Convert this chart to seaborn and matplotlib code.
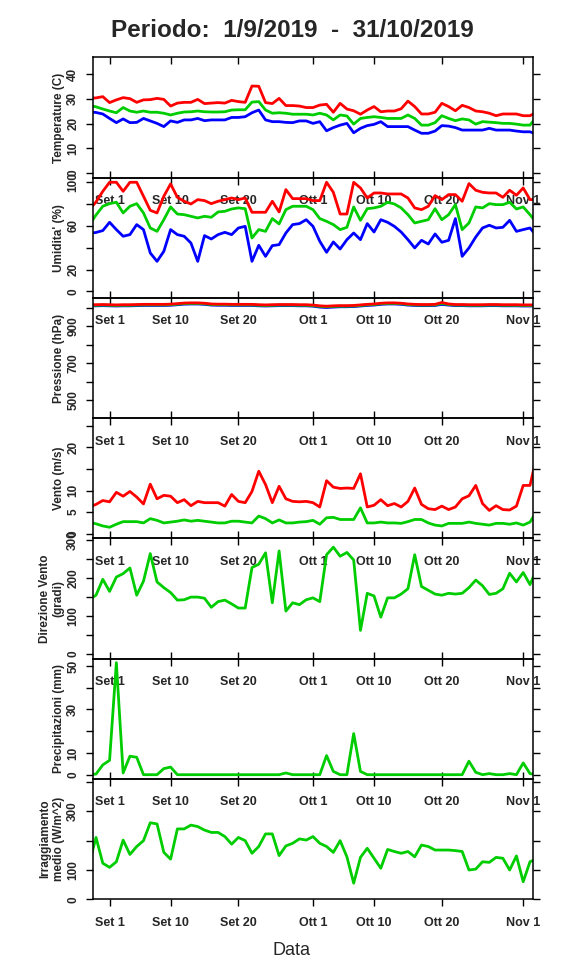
import matplotlib
matplotlib.use("Agg")
import matplotlib.pyplot as plt
import matplotlib.dates as mdates
import pandas as pd
import seaborn as sns

# giorni dal 29/8 al 3/11 (la finestra del grafico taglia gli estremi)
giorni = pd.date_range("2019-08-29", "2019-11-03", freq="D")

temp_max = [30.2, 30.4, 30.9, 28.5, 29.6, 30.5, 30.1, 28.6, 29.6, 29.7,
            30.2, 29.8, 27.1, 28.3, 28.6, 28.6, 29.8, 28.1, 28.3, 28.5,
            28.3, 29.4, 28.9, 28.6, 35.2, 35.1, 28.5, 28.1, 30.2, 27.3,
            27.3, 27.1, 26.5, 26.5, 27.5, 27.8, 24.6, 28.2, 25.9, 25.2,
            23.8, 25.5, 26.9, 24.8, 25.1, 25.1, 26.0, 29.1, 26.9, 23.9,
            23.9, 24.6, 28.2, 26.9, 25.2, 27.4, 26.5, 25.1, 24.8, 24.2,
            23.2, 23.9, 23.9, 23.9, 23.2, 23.2, 24.7]
temp_med = [27.3, 26.8, 25.9, 25.1, 24.4, 26.5, 25.1, 24.6, 25.1, 24.6,
            24.6, 24.2, 23.5, 24.2, 24.7, 24.8, 25.1, 24.8, 24.7, 24.7,
            24.8, 25.5, 25.6, 25.6, 28.7, 28.9, 25.5, 24.2, 24.4, 24.2,
            23.8, 23.8, 23.8, 23.5, 24.2, 23.5, 21.5, 23.5, 23.1, 19.8,
            22.1, 22.5, 22.8, 22.5, 22.1, 22.1, 22.1, 23.5, 22.1, 19.4,
            19.4, 20.4, 23.2, 22.1, 21.2, 21.9, 21.5, 19.8, 20.8, 20.6,
            20.4, 20.1, 20.1, 19.8, 19.4, 19.4, 22.9]
temp_min = [24.8, 24.5, 23.9, 22.1, 20.4, 21.9, 20.4, 20.5, 22.1, 21.1,
            20.1, 18.8, 21.1, 20.5, 21.5, 21.5, 22.1, 21.2, 21.5, 21.5,
            21.5, 22.5, 22.5, 22.8, 24.4, 25.5, 21.5, 20.8, 20.8, 20.5,
            20.4, 21.1, 21.1, 20.1, 20.8, 17.1, 18.4, 19.4, 20.1, 16.3,
            18.1, 19.2, 19.7, 20.8, 18.8, 18.8, 18.8, 18.8, 17.4, 16.1,
            16.1, 17.0, 19.2, 19.0, 18.4, 17.4, 17.4, 17.4, 17.4, 18.1,
            17.4, 17.4, 17.4, 17.0, 16.7, 16.7, 15.7]

umid_max = [74.6, 82.0, 91.7, 100, 100, 91.7, 100, 100, 87.2, 74.3,
            71.9, 87.2, 98.5, 86.2, 82.6, 80.1, 84.1, 83.2, 80.4, 82.6,
            84.1, 85.6, 84.1, 85.6, 72.5, 72.5, 72.5, 82.6, 72.8, 93.3,
            85.0, 85.0, 85.0, 83.2, 83.2, 100, 90.8, 70.9, 70.9, 100,
            94.8, 85.6, 90.2, 90.2, 89.3, 89.3, 89.3, 85.6, 76.5, 74.9,
            78.0, 87.8, 84.1, 88.7, 88.7, 82.6, 98.8, 92.7, 90.8, 90.2,
            90.2, 86.2, 92.7, 88.1, 94.8, 84.1, 84.1]
umid_med = [60.7, 70.0, 78.0, 80.4, 81.7, 71.9, 78.0, 80.4, 71.9, 58.1,
            55.0, 65.7, 77.4, 70.9, 70.3, 68.8, 67.3, 68.8, 67.9, 72.8,
            73.4, 75.5, 76.5, 75.8, 48.9, 56.6, 55.0, 66.7, 61.8, 74.9,
            78.0, 78.0, 78.0, 74.9, 66.7, 64.2, 61.2, 56.6, 58.7, 77.4,
            65.1, 75.8, 76.5, 78.0, 81.7, 80.1, 76.5, 70.3, 62.7, 64.2,
            65.7, 75.8, 65.7, 70.3, 79.5, 56.6, 62.7, 77.4, 76.5, 80.4,
            79.5, 79.5, 81.7, 75.5, 77.4, 70.3, 62.8]
umid_min = [53.0, 54.0, 55.7, 63.3, 56.6, 50.5, 52.0, 61.2, 56.6, 35.2,
            27.5, 36.7, 56.6, 52.0, 50.5, 44.3, 27.5, 51.1, 48.0, 52.0,
            54.1, 52.0, 58.1, 59.6, 27.5, 42.2, 32.1, 41.9, 42.8, 53.5,
            61.2, 62.1, 65.7, 59.6, 45.9, 35.8, 45.3, 38.8, 47.4, 53.5,
            47.4, 62.1, 54.4, 65.7, 63.3, 59.6, 54.4, 47.4, 39.8, 46.8,
            43.4, 52.6, 45.0, 46.8, 66.7, 32.1, 39.8, 49.8, 58.1, 60.6,
            58.1, 58.7, 65.1, 55.0, 56.6, 58.1, 50.6]

press_max = [1016, 1016, 1017, 1016, 1015, 1016, 1016, 1017, 1018, 1018,
             1018, 1018, 1019, 1022, 1025, 1026, 1026, 1024, 1020, 1019,
             1019, 1018, 1018, 1018, 1018, 1016, 1015, 1016, 1017, 1017,
             1017, 1016, 1016, 1014, 1010, 1008, 1010, 1011, 1011, 1012,
             1015, 1018, 1020, 1024, 1026, 1026, 1024, 1020, 1018, 1017,
             1017, 1018, 1028, 1020, 1017, 1017, 1016, 1016, 1016, 1017,
             1017, 1016, 1016, 1016, 1015, 1015, 1015]
press_med = [1013, 1013, 1014, 1013, 1012, 1013, 1013, 1014, 1015, 1015,
             1015, 1015, 1016, 1019, 1022, 1023, 1023, 1021, 1017, 1016,
             1016, 1015, 1015, 1015, 1015, 1013, 1012, 1013, 1014, 1014,
             1014, 1013, 1013, 1011, 1007, 1005, 1007, 1008, 1008, 1009,
             1012, 1015, 1017, 1021, 1023, 1023, 1021, 1017, 1015, 1014,
             1014, 1015, 1023, 1017, 1014, 1014, 1013, 1013, 1013, 1014,
             1014, 1013, 1013, 1013, 1012, 1012, 1012]
press_min = [1010, 1010, 1011, 1010, 1009, 1010, 1010, 1011, 1012, 1012,
             1012, 1012, 1013, 1016, 1019, 1020, 1020, 1018, 1014, 1013,
             1013, 1012, 1012, 1012, 1012, 1010, 1009, 1010, 1011, 1011,
             1011, 1010, 1010, 1008, 1003, 1001, 1003, 1005, 1005, 1006,
             1009, 1012, 1014, 1018, 1020, 1020, 1018, 1014, 1012, 1011,
             1011, 1012, 1018, 1014, 1011, 1011, 1010, 1010, 1010, 1011,
             1011, 1010, 1010, 1010, 1009, 1009, 1009]

vento_max = [6.2, 6.8, 7.7, 7.4, 9.6, 8.7, 9.8, 8.5, 6.9, 11.5,
             8.1, 8.9, 8.7, 7.2, 7.9, 6.5, 7.5, 7.2, 7.2, 7.2,
             6.4, 9.1, 7.5, 7.2, 9.8, 14.5, 11.4, 7.2, 11.0, 8.1,
             7.5, 7.4, 7.5, 7.2, 6.2, 12.3, 10.8, 10.5, 10.6, 10.5,
             13.9, 6.2, 6.6, 7.9, 6.5, 7.0, 6.2, 7.5, 10.6, 6.8,
             5.8, 5.6, 6.4, 5.6, 6.2, 8.1, 8.8, 11.2, 7.0, 5.4,
             6.5, 5.6, 5.5, 6.4, 11.2, 11.2, 18.0]
vento_med = [2.7, 2.3, 1.8, 1.5, 2.2, 2.8, 2.8, 2.8, 2.5, 3.5,
             3.1, 2.5, 2.7, 2.9, 3.2, 2.9, 3.1, 2.9, 2.7, 2.5,
             2.5, 2.9, 2.9, 2.7, 2.5, 4.1, 3.5, 2.5, 3.2, 2.5,
             2.5, 2.7, 2.8, 3.1, 2.2, 3.7, 3.8, 3.3, 3.3, 3.3,
             6.0, 2.5, 2.5, 2.7, 2.5, 2.5, 2.4, 2.8, 3.3, 3.3,
             2.5, 2.0, 1.8, 2.4, 2.4, 2.4, 2.7, 2.4, 2.2, 2.0,
             2.4, 2.4, 2.2, 2.5, 2.0, 2.7, 5.2]

direzione = [144, 155, 197, 165, 203, 212, 227, 155, 192, 265,
             190, 175, 162, 142, 143, 150, 150, 147, 123, 138,
             142, 132, 121, 121, 228, 237, 267, 135, 272, 113,
             135, 130, 143, 148, 138, 262, 282, 258, 268, 248,
             62, 160, 153, 97, 148, 148, 158, 172, 262, 178,
             168, 158, 155, 160, 158, 160, 175, 195, 180, 157,
             160, 172, 213, 190, 215, 183, 225]

pioggia = [0, 0.3, 4.5, 6.6, 51.5, 0.8, 8.5, 8.0, 0, 0,
           0, 2.8, 3.5, 0, 0, 0, 0, 0, 0, 0,
           0, 0, 0, 0, 0, 0, 0, 0, 0, 0.8,
           0, 0, 0, 0, 0, 8.8, 1.5, 0, 0, 18.9,
           1.5, 0, 0, 0, 0, 0, 0, 0, 0, 0,
           0, 0, 0, 0, 0, 0, 6.2, 1.1, 0, 0.5,
           0, 0, 0.5, 0, 5.4, 0.5, 0]

irragg = [122, 211, 123, 109, 128, 202, 153, 180, 200, 261,
          257, 160, 137, 240, 240, 253, 248, 236, 228, 228,
          214, 188, 211, 200, 157, 180, 223, 223, 149, 182,
          191, 206, 202, 214, 191, 180, 160, 200, 145, 55,
          143, 174, 140, 106, 170, 163, 157, 163, 145, 185,
          180, 168, 168, 168, 166, 163, 100, 103, 128, 126,
          143, 140, 100, 148, 60, 128, 138]

etichette_x = ["Set 1", "Set 10", "Set 20", "Ott 1", "Ott 10", "Ott 20", "Nov 1"]
date_x = pd.to_datetime(["2019-09-01", "2019-09-10", "2019-09-20", "2019-10-01",
                         "2019-10-10", "2019-10-20", "2019-11-01"])

ROSSO, VERDE, BLU = "#FF0000", "#00CD00", "#0000FF"

# (etichetta asse y, serie, limiti y, tick y, etichette tick y)
pannelli = [
    ("Temperature (C)", [(temp_min, BLU), (temp_med, VERDE), (temp_max, ROSSO)],
     (-1.8, 46.8), [0, 10, 20, 30, 40], ["0", "10", "20", "30", "40"]),
    ("Umidita' (%)", [(umid_min, BLU), (umid_med, VERDE), (umid_max, ROSSO)],
     (-6.0, 104.3), [0, 20, 40, 60, 80, 100], ["0", "20", "", "60", "", "100"]),
    ("Pressione (hPa)", [(press_min, BLU), (press_med, VERDE), (press_max, ROSSO)],
     (402, 1053), [500, 600, 700, 800, 900, 1000], ["500", "", "700", "", "900", ""]),
    ("Vento (m/s)", [(vento_med, VERDE), (vento_max, ROSSO)],
     (-1.1, 26.8), [0, 5, 10, 15, 20, 25], ["0", "5", "10", "", "20", ""]),
    ("Direzione Vento\n(gradi)", [(direzione, VERDE)],
     (-13, 305), [0, 50, 100, 150, 200, 250, 300], ["0", "", "100", "", "200", "", "300"]),
    ("Precipitazioni (mm)", [(pioggia, VERDE)],
     (-2.0, 53.3), [0, 10, 20, 30, 40, 50], ["0", "10", "", "30", "", "50"]),
    ("Irraggiamento\nmedio (W/m^2)", [(irragg, VERDE)],
     (0, 410), [0, 100, 200, 300, 400], ["0", "100", "", "300", ""]),
]

sns.set_theme(style="ticks")
plt.rcParams["font.family"] = ["Liberation Sans", "DejaVu Sans"]
plt.rcParams["font.weight"] = "bold"
plt.rcParams["axes.labelweight"] = "bold"

W, H = 576, 972
fig = plt.figure(figsize=(W / 100, H / 100), dpi=100)
fig.patch.set_facecolor("white")

xmin = mdates.date2num(pd.Timestamp("2019-09-01")) - 2.4
xmax = mdates.date2num(pd.Timestamp("2019-10-31")) + 2.4
xt = mdates.date2num(date_x)

alto, passo = 57.3, 120.29
sx, larg = 93.3, 439.4

for i, (etichetta, serie, ylim, yticks, ylab) in enumerate(pannelli):
    y0 = alto + i * passo
    ax = fig.add_axes([sx / W, 1 - (y0 + passo) / H, larg / W, passo / H])
    ax.set_facecolor("none")
    for valori, colore in serie:
        sns.lineplot(x=giorni, y=valori, color=colore, linewidth=2, ax=ax)
    ax.set_xlim(xmin, xmax)
    ax.set_ylim(*ylim)

    ax.set_xticks(xt)
    ax.set_xticklabels(etichette_x, fontsize=9, fontweight="bold")
    ultimo = i == len(pannelli) - 1
    ax.tick_params(axis="x", direction="out" if ultimo else "inout",
                   length=5 if ultimo else 10, width=1, color="black", pad=7.5)

    ax.set_yticks(yticks)
    ax.set_yticklabels(ylab, rotation=90, va="center", fontsize=8.5, fontweight="bold")
    ax.tick_params(axis="y", direction="out", length=5, width=1, color="black",
                   right=True, pad=5.2)

    ax.set_xlabel("")
    ax.set_ylabel(etichetta, fontsize=8.5, fontweight="bold", linespacing=1.2)
    ax.yaxis.set_label_coords(-0.065, 0.5)

    for sp in ax.spines.values():
        sp.set_color("black")
        sp.set_linewidth(1.1)

    if i == 0:
        sopra = ax.twiny()
        sopra.set_xlim(xmin, xmax)
        sopra.set_xticks(xt)
        sopra.tick_params(axis="x", top=True, bottom=False, direction="in",
                          length=5, width=1, color="black", labeltop=False)
        for sp in sopra.spines.values():
            sp.set_visible(False)

fig.text(292 / W, 1 - 30.7 / H, "Periodo:  1/9/2019  -  31/10/2019",
         ha="center", va="center", fontsize=17.5, fontweight="bold")
fig.text(292 / W, 1 - 950 / H, "Data", ha="center", va="center",
         fontsize=13, fontweight="normal")

fig.savefig("out.png", dpi=100)
